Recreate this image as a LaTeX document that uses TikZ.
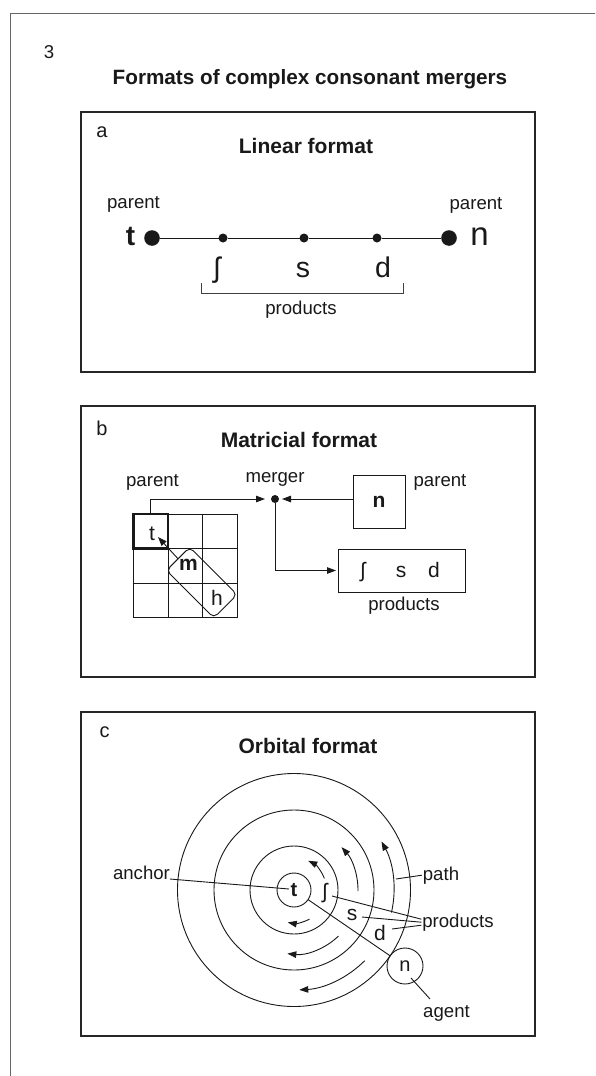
\documentclass[tikz,border=0pt]{standalone}
\usepackage{fontspec}
\setmainfont{Liberation Sans}
\usetikzlibrary{arrows.meta,calc}
\begin{document}
\begin{tikzpicture}[x=1pt,y=-1pt,
  every node/.style={inner sep=0pt, outer sep=0pt, text=black!90},
  panel/.style={draw=black!85, line width=1.3pt},
  lbl/.style={font=\fontsize{18.6}{22}\selectfont, anchor=base},
  ptitle/.style={font=\bfseries\fontsize{21}{25}\selectfont, anchor=base},
  plet/.style={font=\fontsize{20}{24}\selectfont, anchor=base},
  txtbig/.style={font=\fontsize{28.5}{34}\selectfont, anchor=base},
  txtmid/.style={font=\fontsize{21}{25}\selectfont, anchor=base},
  conn/.style={draw=black!90, line width=0.9pt},
  arr/.style={conn, -{Triangle[length=9pt,width=6.5pt]}},
  bigdot/.style={circle, fill=black!90, minimum size=15.6pt},
  smalldot/.style={circle, fill=black!90, minimum size=9pt},
  orbit/.style={draw=black!90, line width=0.9pt},
]
\useasboundingbox (0,0) rectangle (595,1076);
\clip (0,0) rectangle (595,1076);
\fill[white] (0,0) rectangle (595,1076);
% outer frame
\draw[draw=black!60, line width=1.2pt] (10.5,1090) -- (10.5,13.5) -- (610,13.5);
\node[lbl] (num) at (49,58.8) {3};
\node[font=\bfseries\fontsize{20.7}{25}\selectfont, anchor=base] (title) at (310,84) {Formats of complex consonant mergers};

% ---------------- panel a
\draw[panel] (81,112) rectangle (535,372);
\node[plet] (la) at (102,137) {a};
\node[ptitle] (ta) at (306,153) {Linear format};
\node[lbl] (pa1) at (133.5,208) {parent};
\node[lbl] (pa2) at (476,209) {parent};
\node[font=\bfseries\fontsize{28}{32}\selectfont, anchor=base] (at) at (130.5,245) {t};
\node[font=\fontsize{33}{38}\selectfont, anchor=base] (an) at (479.5,245) {n};
\node[bigdot] (d1) at (152,238) {};
\node[smalldot] (d2) at (223,238) {};
\node[smalldot] (d3) at (304,238) {};
\node[smalldot] (d4) at (377,238) {};
\node[bigdot] (d5) at (449,238) {};
\draw[conn] (d1) -- (d2) -- (d3) -- (d4) -- (d5);
\node[txtbig] (esh1) at (217,277) {ʃ};
\node[txtbig] (s1) at (303,277) {s};
\node[txtbig] (dd1) at (383,277) {d};
\coordinate (bl) at (201,283);
\coordinate (br) at (403,283);
\draw[conn, draw=black!75] (bl) -- ++(0,10) -| (br);
\node[lbl] (pr1) at (301,314) {products};

% ---------------- panel b
\draw[panel] (81,406) rectangle (535,677);
\node[plet] (lb) at (102,435) {b};
\node[ptitle] (tb) at (299,447) {Matricial format};
\node[lbl] (pb1) at (152.5,486) {parent};
\node[lbl] (mg) at (275,482) {merger};
\node[lbl] (pb2) at (440,486) {parent};
\node[smalldot, minimum size=8pt] (md) at (275,499) {};
\foreach \i in {0,1,2,3} {
  \draw[conn, line width=0.8pt] (133.5+34.5*\i,514) -- (133.5+34.5*\i,617.5);
  \draw[conn, line width=0.8pt] (133.5,514+34.5*\i) -- (237,514+34.5*\i);
}
\node[draw=black!90, line width=2.2pt, minimum size=34.5pt, anchor=north west] (tcell) at (133.5,514) {};
\node[txtmid] (tt) at (152,540) {t};
\coordinate (ttip) at (158,537);
\node[draw=black!90, line width=0.9pt, rounded corners=5pt, minimum width=67pt, minimum height=33pt, rotate=-45] (mh) at (201.75,582.5) {};
\node[font=\bfseries\fontsize{21}{25}\selectfont, anchor=base] (mm) at (188.5,570) {m};
\node[txtmid] (hh) at (217,605) {h};
\draw[arr] (mh.west) -- (ttip);
\draw[arr, shorten >=6pt] (tcell.north) |- (md);
\node[draw=black!90, line width=0.9pt, minimum width=52pt, minimum height=53pt, font=\bfseries\fontsize{21}{25}\selectfont] (nb) at (379,501.5) {n};
\draw[arr, shorten >=3pt] (nb.west |- md) -- (md);
\node[draw=black!90, line width=0.9pt, minimum width=127pt, minimum height=43pt] (pbox) at (401.5,570.5) {};
\draw[arr, shorten >=2pt] (md) |- (pbox.west);
\node[txtmid] (esh2) at (363,577) {ʃ};
\node[txtmid] (s2) at (401,577) {s};
\node[txtmid] (dd2) at (434,577) {d};
\node[lbl] (pr2) at (404,610) {products};

% ---------------- panel c
\draw[panel] (81,712) rectangle (535,1036);
\node[plet] (lc) at (104.5,737) {c};
\node[ptitle] (tc) at (308,753) {Orbital format};
\coordinate (O) at (294,890);
\draw[orbit] (O) circle[radius=44];
\draw[orbit] (O) circle[radius=80];
\draw[orbit] (O) circle[radius=116.5];
\node[circle, draw=black!90, line width=0.9pt, minimum size=34pt, font=\bfseries\fontsize{20}{24}\selectfont] (tcirc) at (O) {t};
% orbit arrows
\draw[arr] ([shift={(-21:32.5)}]O) arc[start angle=-21, end angle=-64, radius=32.5];
\draw[arr] ([shift={(62:33)}]O) arc[start angle=62, end angle=101, radius=33];
\draw[arr] ([shift={(1:64)}]O) arc[start angle=1, end angle=-42, radius=64];
\draw[arr] ([shift={(46:64)}]O) arc[start angle=46, end angle=96, radius=64];
\draw[arr] ([shift={(13:100)}]O) arc[start angle=13, end angle=-29, radius=100];
\draw[arr] ([shift={(45:100)}]O) arc[start angle=45, end angle=87, radius=100];
% labels
\node[lbl] (anc) at (141.5,879) {anchor};
\coordinate (ancend) at (289,889);
\draw[conn] (anc.base east) -- (ancend);
\node[circle, draw=black!90, line width=0.9pt, minimum size=36pt, font=\fontsize{20}{24}\selectfont] (nc) at (405,966) {n};
\draw[conn] (tcirc) -- (nc);
\node[lbl] (ag) at (446.5,1017) {agent};
\coordinate (agstart) at (411,978);
\coordinate (agend) at (430,999);
\draw[conn] (agstart) -- (agend);
\node[lbl, inner sep=1pt] (pth) at (441,880) {path};
\coordinate (pthstart) at (396,879);
\draw[conn] (pthstart) -- (pth.west);
\node[txtmid] (esh3) at (325,898.5) {ʃ};
\node[txtmid] (s3) at (352,920) {s};
\node[txtmid] (dd3) at (380,940) {d};
\node[lbl, inner sep=1pt] (pr3) at (458,927) {products};
\coordinate (e1) at (332,896);
\coordinate (e2) at (362,917);
\coordinate (e3) at (392,929);
\draw[conn] (e1) -- ([yshift=3pt]pr3.west);
\draw[conn] (e2) -- (pr3.west);
\draw[conn] (e3) -- ([yshift=-3pt]pr3.west);
\end{tikzpicture}
\end{document}
